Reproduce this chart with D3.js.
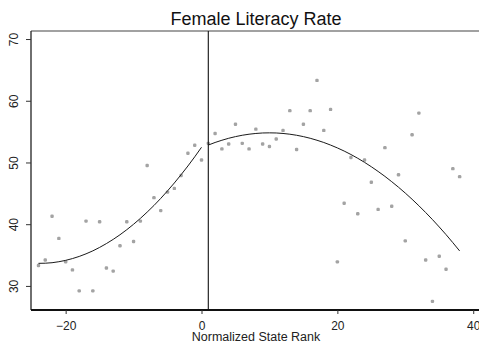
<!DOCTYPE html>
<html>
<head>
<meta charset="utf-8">
<script src="https://cdn.jsdelivr.net/npm/d3@7"></script>
<style>
  html, body { margin: 0; padding: 0; background: #fff; }
  svg { display: block; font-family: "Liberation Sans", Arial, sans-serif; }
</style>
</head>
<body>
<svg id="chart" width="479" height="346"></svg>
<script>
// State rank (normalized, cutoff between 0 and 1) and female literacy rate
const ranks = [
  -24, -23, -22, -21, -20, -19, -18, -17, -16, -15, -14, -13, -12,
  -11, -10, -9, -8, -7, -6, -5, -4, -3, -2, -1, 0,
  1, 2, 3, 4, 5, 6, 7, 8, 9, 10, 11, 12, 13, 14, 15, 16, 17, 18, 19,
  20, 21, 22, 23, 24, 25, 26, 27, 28, 29, 30, 31, 32, 33, 34, 35, 36, 37, 38
];
const literacy = [
  33.3, 34.2, 41.3, 37.7, 33.9, 32.6, 29.2, 40.5, 29.2, 40.4, 32.9, 32.4, 36.5,
  40.4, 37.2, 40.5, 49.5, 44.3, 42.2, 45.2, 45.8, 47.9, 51.5, 52.8, 50.4,
  53.1, 54.7, 52.2, 53.0, 56.2, 53.1, 52.2, 55.4, 53.0, 52.6, 53.8, 55.2, 58.4, 52.1, 56.2, 58.4, 63.3, 55.2, 58.6,
  33.9, 43.4, 50.8, 41.7, 50.4, 46.8, 42.4, 52.4, 42.9, 48.0, 37.3, 54.5, 58.0, 34.2, 27.5, 34.8, 32.7, 49.0, 47.7
];

// Fitted curve below the cutoff
const fitLeftRank = [-24, -23, -22, -21, -20, -19, -18, -17, -16, -15, -14, -13, -12,
  -11, -10, -9, -8, -7, -6, -5, -4, -3, -2, -1, 0];
const fitLeftValue = [33.66, 33.68, 33.76, 33.92, 34.14, 34.43, 34.78, 35.20, 35.68, 36.24, 36.86, 37.54, 38.29,
  39.11, 39.99, 40.94, 41.96, 43.03, 44.18, 45.40, 46.68, 48.03, 49.43, 50.91, 52.46];

// Fitted curve above the cutoff
const fitRightRank = [1, 2, 3, 4, 5, 6, 7, 8, 9, 10, 11, 12, 13, 14, 15, 16, 17, 18, 19,
  20, 21, 22, 23, 24, 25, 26, 27, 28, 29, 30, 31, 32, 33, 34, 35, 36, 37, 38];
const fitRightValue = [52.82, 53.24, 53.60, 53.92, 54.19, 54.41, 54.58, 54.70, 54.78, 54.80,
  54.78, 54.70, 54.58, 54.41, 54.19, 53.92, 53.60, 53.24, 52.82,
  52.36, 51.85, 51.29, 50.68, 50.02, 49.31, 48.55, 47.75, 46.89, 45.99, 45.04,
  44.04, 42.99, 41.89, 40.75, 39.55, 38.31, 37.01, 35.67];

const xTicks = [-20, 0, 20, 40];
const yTicks = [30, 40, 50, 60, 70];
const cutoff = 1;

const svg = d3.select("#chart");

const plotLeft = 31, plotRight = 479, plotTop = 31, plotBottom = 310;
const x = d3.scaleLinear().domain([-25.1, 40.85]).range([plotLeft, plotRight]);
const y = d3.scaleLinear().domain([26.1, 71.3]).range([plotBottom, plotTop]);

// Title
svg.append("text")
  .attr("x", 256).attr("y", 25)
  .attr("text-anchor", "middle")
  .attr("font-size", 18)
  .attr("fill", "#111")
  .text("Female Literacy Rate");

// Plot frame (top edge)
svg.append("line")
  .attr("x1", plotLeft).attr("x2", plotRight + 2)
  .attr("y1", plotTop).attr("y2", plotTop)
  .attr("stroke", "#444").attr("stroke-width", 1.2);

// Points
svg.append("g")
  .selectAll("rect")
  .data(ranks.map((r, i) => ({ r, v: literacy[i] })))
  .join("rect")
  .attr("x", d => x(d.r) - 1.7)
  .attr("y", d => y(d.v) - 1.7)
  .attr("width", 3.4).attr("height", 3.4)
  .attr("rx", 1.2)
  .attr("fill", "#a3a3a3");

// Fitted curves
const line = d3.line().x(d => x(d[0])).y(d => y(d[1]));
svg.append("path")
  .datum(fitLeftRank.map((r, i) => [r, fitLeftValue[i]]))
  .attr("d", line)
  .attr("fill", "none").attr("stroke", "#1a1a1a").attr("stroke-width", 1);
svg.append("path")
  .datum(fitRightRank.map((r, i) => [r, fitRightValue[i]]))
  .attr("d", line)
  .attr("fill", "none").attr("stroke", "#1a1a1a").attr("stroke-width", 1);

// Cutoff line
svg.append("line")
  .attr("x1", x(cutoff)).attr("x2", x(cutoff))
  .attr("y1", plotTop).attr("y2", plotBottom)
  .attr("stroke", "#111").attr("stroke-width", 1.1);

// Y axis
const yAxis = d3.axisLeft(y).tickValues(yTicks).tickSize(5).tickSizeOuter(0).tickPadding(6);
const gy = svg.append("g").attr("transform", `translate(${plotLeft},0)`).call(yAxis);
gy.select(".domain").attr("stroke", "#222").attr("stroke-width", 1.3)
  .attr("d", `M0,${plotTop}V${plotBottom}`);
gy.selectAll(".tick line").attr("stroke", "#333");
gy.selectAll(".tick text")
  .attr("font-size", 12)
  .attr("font-family", "Liberation Sans, Arial, sans-serif")
  .attr("fill", "#222")
  .attr("text-anchor", "middle")
  .attr("x", null).attr("dy", null)
  .attr("dominant-baseline", "central")
  .attr("transform", "translate(-17,0) rotate(-90)");

// X axis
const xAxis = d3.axisBottom(x).tickValues(xTicks).tickSize(4).tickSizeOuter(0).tickPadding(7);
const gx = svg.append("g").attr("transform", `translate(0,${plotBottom})`).call(xAxis);
gx.select(".domain").attr("stroke", "#111").attr("stroke-width", 2)
  .attr("d", `M${plotLeft},0H${plotRight + 2}`);
gx.selectAll(".tick line").attr("stroke", "#333");
gx.selectAll(".tick text")
  .attr("font-size", 12)
  .attr("font-family", "Liberation Sans, Arial, sans-serif")
  .attr("fill", "#222");

// X axis title
svg.append("text")
  .attr("x", 256).attr("y", 341)
  .attr("text-anchor", "middle")
  .attr("font-size", 12.5)
  .attr("fill", "#222")
  .text("Normalized State Rank");
</script>
</body>
</html>
